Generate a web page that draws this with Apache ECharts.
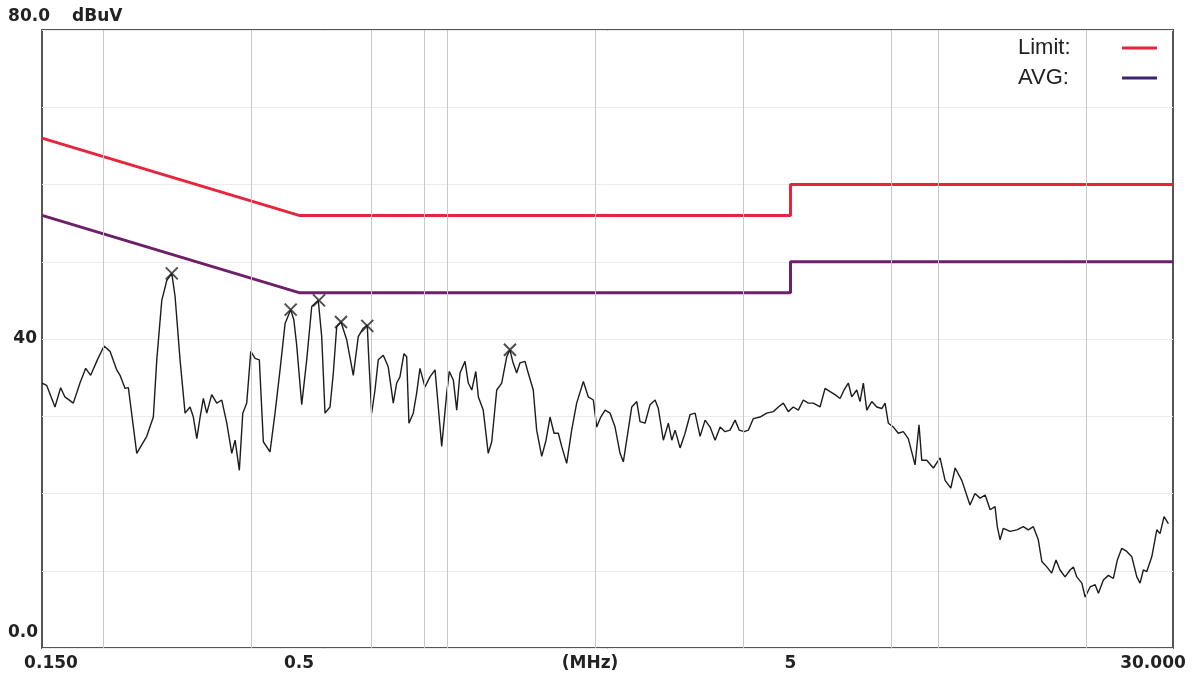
<!DOCTYPE html>
<html><head><meta charset="utf-8">
<script src="https://cdn.jsdelivr.net/npm/echarts@6/dist/echarts.min.js"></script>
<style>html,body{margin:0;padding:0;background:#fff}#c{width:1200px;height:679px}</style>
</head><body><div id="c"></div>
<script>
// Measured trace: frequency (MHz) and level (dBuV)
const traceFreq = [0.150,0.1533,0.1594,0.1637,0.1670,0.1737,0.1792,0.1841,0.1884,0.1944,0.2006,0.2063,0.2129,0.2162,0.2214,0.2248,0.2338,0.2450,0.2527,0.2568,0.2629,0.2692,0.2755,0.2798,0.2864,0.2932,0.3001,0.3048,0.3098,0.3146,0.3194,0.3246,0.3322,0.3401,0.3482,0.3565,0.3649,0.3706,0.3781,0.3842,0.3914,0.3989,0.4070,0.4152,0.4231,0.4365,0.4469,0.4575,0.4684,0.4809,0.4880,0.4946,0.5064,0.5184,0.5307,0.5472,0.5561,0.5648,0.5782,0.5872,0.5966,0.6087,0.6252,0.6448,0.6600,0.6757,0.6884,0.6930,0.7028,0.7138,0.7248,0.7420,0.7595,0.7776,0.7901,0.8023,0.8175,0.8280,0.8368,0.8539,0.8676,0.8811,0.9021,0.9236,0.9456,0.9602,0.9756,0.9988,1.0111,1.0302,1.0468,1.0629,1.0882,1.1050,1.1234,1.1447,1.1585,1.1852,1.2133,1.2333,1.2625,1.2922,1.3229,1.3432,1.3605,1.3862,1.4076,1.4412,1.4633,1.4981,1.5222,1.5588,1.5907,1.6206,1.6514,1.6848,1.7116,1.7522,1.7935,1.8360,1.8945,1.9391,1.9850,2.0170,2.0554,2.0974,2.1470,2.1978,2.2498,2.2849,2.3246,2.3767,2.4331,2.4706,2.5294,2.5894,2.6511,2.6919,2.7557,2.8206,2.8670,2.9118,2.9807,3.0507,3.1229,3.1978,3.2734,3.3509,3.4302,3.5122,3.5953,3.6795,3.7666,3.8560,3.9328,4.0225,4.1038,4.2015,4.3339,4.4726,4.6140,4.7227,4.8343,4.9482,5.0657,5.1861,5.3092,5.4343,5.5637,5.7415,5.8783,6.0174,6.1603,6.3060,6.4258,6.5557,6.6607,6.8187,6.9243,7.0326,7.1459,7.3157,7.4894,7.6663,7.7860,7.9058,8.0941,8.2847,8.4814,8.6812,8.9605,9.1275,9.2460,9.4655,9.7622,10.074,10.314,10.595,10.811,11.154,11.590,11.866,12.147,12.444,12.739,13.032,13.173,13.343,13.552,13.987,14.435,14.880,15.231,15.595,15.962,16.227,16.612,16.996,17.343,17.672,18.093,18.524,18.814,19.117,19.573,19.878,20.349,20.832,21.152,21.651,22.161,22.688,23.116,23.597,24.157,24.735,25.322,25.706,26.108,26.529,27.162,27.807,28.232,28.768,29.36];
const traceLevel = [34.3,34.0,31.2,33.7,32.5,31.7,34.3,36.2,35.3,37.3,39.1,38.4,36.0,35.3,33.6,33.7,25.2,27.4,29.9,37.3,45.0,47.6,48.5,45.5,37.3,30.4,31.2,29.9,27.1,29.9,32.3,30.4,32.8,31.7,32.1,29.1,25.2,26.9,23.0,30.4,31.7,38.4,37.5,37.3,26.7,25.4,30.4,36.0,42.0,43.8,42.5,39.2,31.5,37.3,44.2,45.0,40.3,30.4,31.2,35.6,41.6,42.2,39.9,35.3,40.3,41.4,41.8,37.7,30.4,33.4,37.3,37.9,36.4,31.7,34.3,35.1,38.1,37.7,29.1,30.4,33.0,36.2,33.8,35.1,36.0,31.2,26.1,33.0,35.8,34.7,30.8,35.6,37.1,34.3,33.4,35.8,32.5,30.8,25.2,26.7,33.4,34.3,37.7,38.6,37.1,35.6,36.9,37.1,35.6,33.4,28.2,24.8,26.9,29.9,27.8,27.8,26.1,23.9,28.2,31.7,34.5,32.5,32.1,28.6,29.9,30.8,30.4,28.6,25.2,24.1,27.2,31.2,31.9,29.3,29.1,31.5,32.1,31.0,26.9,29.1,26.9,28.2,25.9,27.8,30.2,30.4,27.4,29.5,28.6,26.9,28.6,28.0,28.2,29.5,28.2,28.0,28.2,29.7,29.9,30.4,30.6,31.2,31.7,30.6,31.2,30.8,32.1,31.7,31.7,31.2,33.6,33.2,32.8,32.3,33.4,34.3,32.5,33.4,31.9,34.3,30.8,31.9,31.2,31.0,31.7,29.1,28.6,27.8,28.0,27.1,23.7,28.9,24.3,24.3,23.3,24.6,21.7,20.7,23.3,21.7,18.5,20.0,19.4,19.8,17.9,18.3,15.7,14.0,15.5,15.1,15.3,15.7,15.3,15.7,14.0,11.2,10.5,9.7,11.4,10.1,9.2,10.1,10.5,9.2,8.4,6.6,7.9,8.2,7.1,8.8,9.4,9.0,11.4,12.9,12.5,11.8,9.2,8.4,10.1,9.9,11.8,15.3,14.8,17.0,16.1];

// Limit lines
const limitFreq = [0.15, 0.5, 5, 5, 30];
const qpLimit = [66, 56, 56, 60, 60];
const avgLimit = [56, 46, 46, 50, 50];

// Peak markers
const markerFreq = [0.2755, 0.4809, 0.5492, 0.6087, 0.6884, 1.3432];
const markerLevel = [48.5, 43.8, 45.0, 42.2, 41.7, 38.6];

// Axis ticks / grid
const gridFreq = [0.2, 0.4, 0.7, 0.9, 1, 2, 4, 8, 10, 20];
const xTickValues = [0.15, 0.5, 5, 30];
const xTickLabels = ['0.150', '0.5', '5', '30.000'];
const yTickValues = [0, 40, 80];
const yTickLabels = ['0.0', '40', '80.0'];

const zip = (a, b) => a.map((v, i) => [v, b[i]]);
const RED = '#e8243c', PURPLE = '#6e1f6a';
const axisFont = { fontFamily: 'DejaVu Sans', fontWeight: 'bold', fontSize: 17, color: '#222' };

const chart = echarts.init(document.getElementById('c'), null, { renderer: 'canvas' });
chart.setOption({
  animation: false,
  backgroundColor: '#fff',
  grid: { left: 42, right: 27, top: 30, bottom: 31, outerBoundsMode: 'none', containLabel: false,
          show: true, borderColor: '#555', borderWidth: 2, backgroundColor: '#fff' },
  xAxis: {
    type: 'log', logBase: 10, min: 0.15, max: 30,
    name: '(MHz)', nameLocation: 'middle', nameGap: 7, nameMoveOverlap: false,
    nameTextStyle: Object.assign({}, axisFont, { verticalAlign: 'top', padding: [0, 35, 0, 0] }),
    axisLine: { show: false }, axisTick: { show: false },
    splitLine: { show: false }, minorSplitLine: { show: false },
    axisLabel: {
      customValues: xTickValues, margin: 7,
      formatter: function (v) {
        let idx = 0, best = Infinity;
        xTickValues.forEach((t, i) => { const d = Math.abs(Math.log(v) - Math.log(t)); if (d < best) { best = d; idx = i; } });
        return '{k' + idx + '|' + xTickLabels[idx] + '}';
      },
      rich: {
        k0: Object.assign({}, axisFont, { padding: [0, 0, 0, 18] }),
        k1: Object.assign({}, axisFont),
        k2: Object.assign({}, axisFont),
        k3: Object.assign({}, axisFont, { padding: [0, 40, 0, 0] })
      }
    }
  },
  yAxis: {
    type: 'value', min: 0, max: 80, interval: 10,
    name: 'dBuV', nameLocation: 'end', nameGap: 3, nameMoveOverlap: false,
    nameTextStyle: Object.assign({}, axisFont, { align: 'left', verticalAlign: 'bottom', lineHeight: 20, padding: [0, 0, 0, 30] }),
    axisLine: { show: false }, axisTick: { show: false },
    splitLine: { show: true, lineStyle: { color: '#ebebeb', width: 1 } },
    axisLabel: {
      margin: -8,
      formatter: function (v) {
        const i = yTickValues.indexOf(v);
        if (i < 0) return '';
        return '{y' + i + '|' + yTickLabels[i] + '}';
      },
      rich: {
        y0: Object.assign({}, axisFont, { padding: [0, 12, 30, 0] }),
        y1: Object.assign({}, axisFont, { padding: [0, 13, 0, 0] }),
        y2: Object.assign({}, axisFont, { padding: [0, 0, 27, 0] })
      }
    }
  },
  legend: {
    data: [
      { name: 'Limit', itemStyle: { color: RED } },
      { name: 'AVG', itemStyle: { color: '#3c2570' } }
    ],
    orient: 'vertical', align: 'right', right: 30, top: 33,
    padding: [4, 13, 6, 15], itemGap: 8, icon: 'rect', itemWidth: 35, itemHeight: 3,
    backgroundColor: '#fff', selectedMode: false,
    formatter: function (n) { return '{n|' + n + ':}'; },
    textStyle: { rich: { n: { width: 99, align: 'left', fontSize: 22, lineHeight: 24, fontFamily: 'Liberation Sans', color: '#222' } } }
  },
  series: [
    {
      name: 'grid', type: 'line', data: [], silent: true, z: 1, symbol: 'none',
      markLine: {
        silent: true, symbol: ['none', 'none'], label: { show: false },
        lineStyle: { color: '#c8c8c8', width: 1, type: 'solid' },
        emphasis: { disabled: true },
        data: gridFreq.map(f => ({ xAxis: f }))
      }
    },
    {
      name: 'Limit', type: 'line', data: zip(limitFreq, qpLimit), symbol: 'none', z: 3,
      color: RED, lineStyle: { color: RED, width: 3 }
    },
    {
      name: 'AVG', type: 'line', data: zip(limitFreq, avgLimit), symbol: 'none', z: 3,
      color: PURPLE, lineStyle: { color: PURPLE, width: 3 }
    },
    {
      name: 'Level', type: 'line', data: zip(traceFreq, traceLevel), symbol: 'none', z: 4,
      color: '#1c1c1c', lineStyle: { color: '#1c1c1c', width: 1.4 }
    },
    {
      name: 'Peaks', type: 'scatter', data: zip(markerFreq, markerLevel), z: 5,
      symbol: 'path://M0,0L10,10M10,0L0,10', symbolSize: 12,
      itemStyle: { color: 'transparent', borderColor: '#222', borderWidth: 2 }
    }
  ]
});
</script>
</body></html>
